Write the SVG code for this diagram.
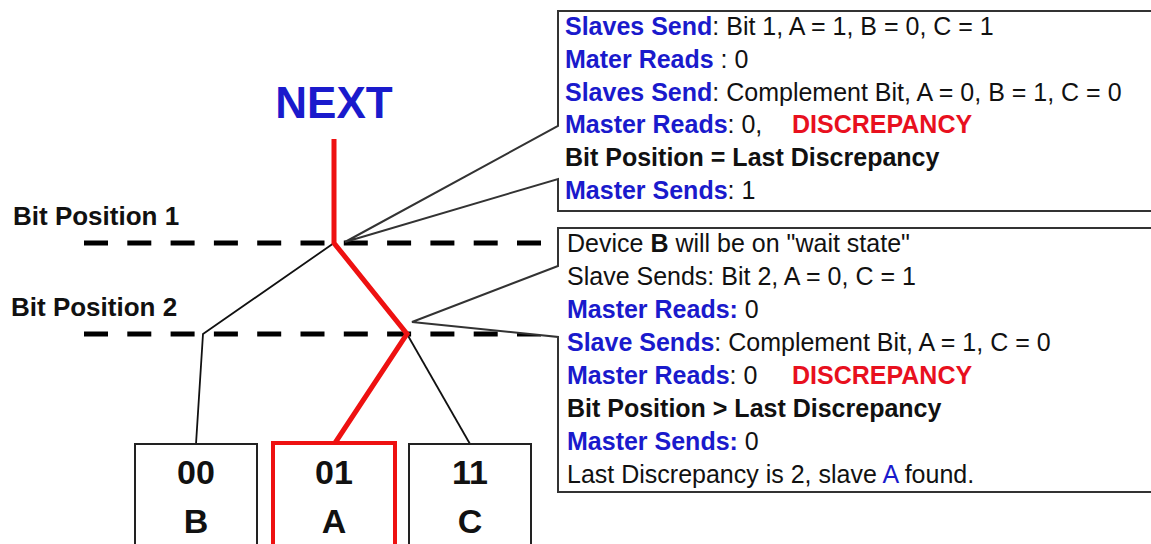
<svg xmlns="http://www.w3.org/2000/svg" width="1151" height="544" viewBox="0 0 1151 544">
  <style>
    text { font-family: "Liberation Sans", Arial, sans-serif; }
    .body { font-size: 25px; fill: #111; }
    .b { font-weight: bold; }
    .blue { fill: #1a1acc; }
    .red { fill: #e8101e; }
    .level { font-size: 26px; font-weight: bold; fill: #111; }
    .box { fill: #fff; stroke: #222; stroke-width: 2; }
    .callout { fill: #fff; stroke: #333; stroke-width: 2; stroke-linejoin: miter; }
    .dash { stroke: #000; stroke-width: 5; stroke-dasharray: 24 19.3; fill: none; }
    .thin { stroke: #111; stroke-width: 1.8; fill: none; }
    .path { stroke: #ee1111; stroke-width: 5; fill: none; stroke-linejoin: miter; }
    .id { font-size: 34px; font-weight: bold; fill: #111; text-anchor: middle; }
  </style>

  <rect width="1151" height="544" fill="#fff"/>

  <!-- title -->
  <text x="334" y="118" font-size="44" font-weight="bold" fill="#1a1acc" text-anchor="middle">NEXT</text>

  <!-- bit position levels -->
  <g id="levels">
    <text class="level" x="13" y="225">Bit Position 1</text>
    <line class="dash" x1="84" y1="243" x2="541" y2="243"/>
    <text class="level" x="11" y="316">Bit Position 2</text>
    <line class="dash" x1="84" y1="334" x2="541" y2="334"/>
  </g>

  <!-- search tree connectors -->
  <g id="connectors">
    <polyline class="thin" points="334,243 203,334 196,444"/>
    <line class="thin" x1="407" y1="334" x2="470" y2="444"/>
    <polyline class="path" points="334,139 334,243 407,334 335,443"/>
  </g>

  <!-- slave devices -->
  <g id="device-b">
    <rect class="box" x="135" y="444" width="122" height="110"/>
    <text class="id" x="196" y="484">00</text>
    <text class="id" x="196" y="533">B</text>
  </g>
  <g id="device-a">
    <rect x="273" y="443" width="122" height="110" fill="#fff" stroke="#ee1111" stroke-width="4"/>
    <text class="id" x="334" y="484">01</text>
    <text class="id" x="334" y="533">A</text>
  </g>
  <g id="device-c">
    <rect class="box" x="409" y="444" width="122" height="110"/>
    <text class="id" x="470" y="484">11</text>
    <text class="id" x="470" y="533">C</text>
  </g>

  <!-- callout for bit position 1 -->
  <g id="note-bit1">
    <path class="callout" d="M1160,11 H558 V126 L345,242 L558,179 V211 H1160 Z"/>
    <text class="body" x="565" y="35"><tspan class="b blue">Slaves Send</tspan>: Bit 1, A = 1, B = 0, C = 1</text>
    <text class="body" x="565" y="68"><tspan class="b blue">Mater Reads</tspan> : 0</text>
    <text class="body" x="565" y="101"><tspan class="b blue">Slaves Send</tspan>: Complement Bit, A = 0, B = 1, C = 0</text>
    <text class="body" x="565" y="133"><tspan class="b blue">Master Reads</tspan>: 0,</text>
    <text class="body b red" x="792" y="133">DISCREPANCY</text>
    <text class="body b" x="565" y="166">Bit Position = Last Discrepancy</text>
    <text class="body" x="565" y="199"><tspan class="b blue">Master Sends</tspan>: 1</text>
  </g>

  <!-- callout for bit position 2 -->
  <g id="note-bit2">
    <path class="callout" d="M1160,228 H558 V266 L412,322 L558,337 V492 H1160 Z"/>
    <text class="body" x="567" y="252">Device <tspan class="b">B</tspan> will be on "wait state"</text>
    <text class="body" x="567" y="285">Slave Sends: Bit 2, A = 0, C = 1</text>
    <text class="body" x="567" y="318"><tspan class="b blue">Master Reads:</tspan> 0</text>
    <text class="body" x="567" y="351"><tspan class="b blue">Slave Sends</tspan>: Complement Bit, A = 1, C = 0</text>
    <text class="body" x="567" y="384"><tspan class="b blue">Master Reads</tspan>: 0</text>
    <text class="body b red" x="792" y="384">DISCREPANCY</text>
    <text class="body b" x="567" y="417">Bit Position &gt; Last Discrepancy</text>
    <text class="body" x="567" y="450"><tspan class="b blue">Master Sends:</tspan> 0</text>
    <text class="body" x="567" y="483">Last Discrepancy is 2, slave <tspan class="blue">A</tspan> found.</text>
  </g>
</svg>
